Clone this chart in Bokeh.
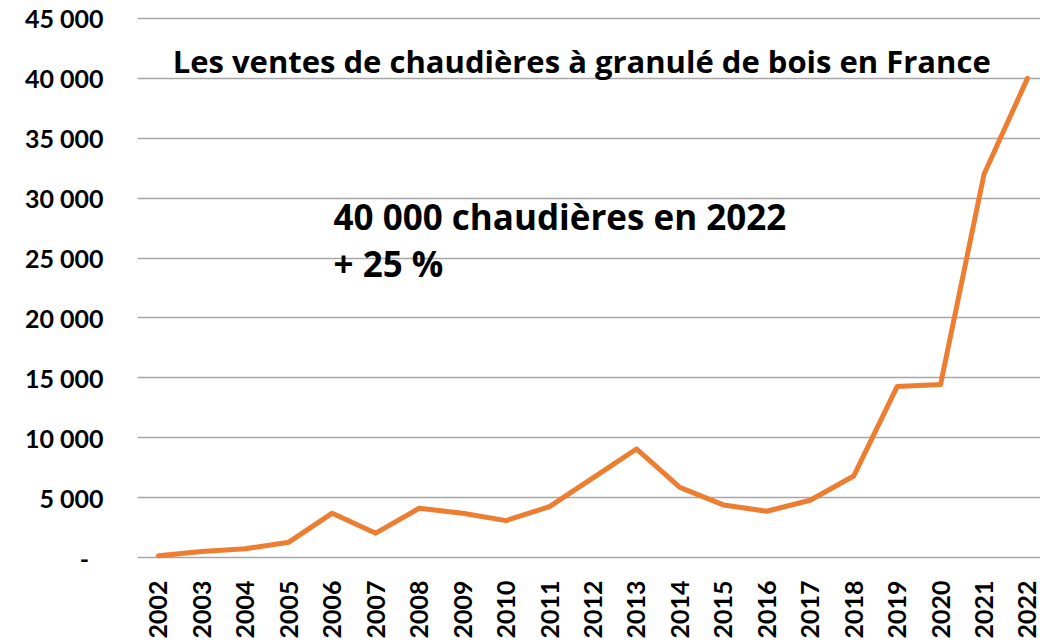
from bokeh.plotting import figure
from bokeh.models import ColumnDataSource, Range1d, FixedTicker, Label
from bokeh.embed import file_html
from bokeh.resources import INLINE
import math

years = list(range(2002, 2023))
year_labels = [str(y) for y in years]
sales = [150, 500, 730, 1280, 3700, 2030, 4110, 3700, 3080, 4250, 6650,
         9060, 5860, 4390, 3860, 4780, 6800, 14270, 14450, 32000, 40000]
y_ticks = [0, 5000, 10000, 15000, 20000, 25000, 30000, 35000, 40000, 45000]
y_tick_labels = ["-\u2007", "5 000", "10 000", "15 000", "20 000", "25 000",
                 "30 000", "35 000", "40 000", "45 000"]
title_text = "Les ventes de chaudières à granulé de bois en France"
note_line1 = "40 000 chaudières en 2022"
note_line2 = "+ 25 %"

TICK_FONT = "Lato"
TEXT_FONT = "Open Sans"

p = figure(width=1040, height=642, x_range=Range1d(2001.517, 2022.3),
           y_range=Range1d(-250, 45250), output_backend="svg", toolbar_location=None,
           min_border_left=137, min_border_right=0, min_border_top=15,
           min_border_bottom=82)
p.outline_line_color = None
p.background_fill_color = "white"
p.border_fill_color = "white"

src = ColumnDataSource(dict(year=years, sales=sales))
p.line("year", "sales", source=src, line_color="#ED7D31", line_width=5,
       line_join="round", line_cap="round")

p.xaxis.ticker = FixedTicker(ticks=years)
p.xaxis.major_label_overrides = {y: l for y, l in zip(years, year_labels)}
p.yaxis.ticker = FixedTicker(ticks=y_ticks)
p.yaxis.major_label_overrides = {t: l for t, l in zip(y_ticks, y_tick_labels)}
for ax in (p.xaxis, p.yaxis):
    ax.axis_line_color = None
    ax.major_tick_line_color = None
    ax.minor_tick_line_color = None
    ax.major_label_text_font = TICK_FONT
    ax.major_label_text_font_style = "bold"
    ax.major_label_text_color = "black"
p.yaxis.major_label_text_font_size = "25px"
p.yaxis.major_label_standoff = 28
p.xaxis.major_label_text_font_size = "25px"
p.xaxis.major_label_orientation = math.pi / 2
p.xaxis.major_label_standoff = 14

p.xgrid.grid_line_color = None
p.ygrid.grid_line_color = "#A6A6A6"
p.ygrid.grid_line_width = 1.5

p.add_layout(Label(x=2011.74, y=41450, text=title_text, text_align="center",
                   text_baseline="middle", text_font=TEXT_FONT, text_font_style="bold",
                   text_font_size="31px", text_color="black"))
p.add_layout(Label(x=2006.03, y=28500, text=note_line1, text_align="left",
                   text_baseline="middle", text_font=TEXT_FONT, text_font_style="bold",
                   text_font_size="35px", text_color="black"))
p.add_layout(Label(x=2006.03, y=24550, text=note_line2, text_align="left",
                   text_baseline="middle", text_font=TEXT_FONT, text_font_style="bold",
                   text_font_size="35px", text_color="black"))

open("out.html", "w").write(file_html(p, INLINE))
